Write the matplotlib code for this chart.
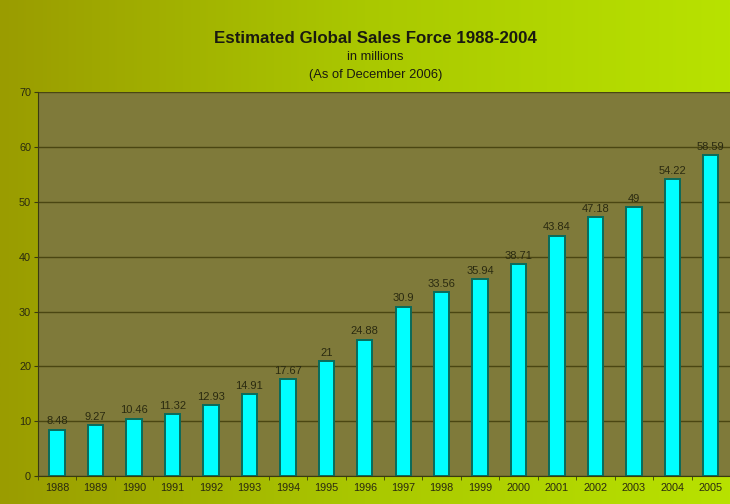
import numpy as np
import matplotlib.pyplot as plt
from matplotlib.colors import LinearSegmentedColormap

years = ['1988', '1989', '1990', '1991', '1992', '1993', '1994', '1995', '1996',
         '1997', '1998', '1999', '2000', '2001', '2002', '2003', '2004', '2005']
sales_force = [8.48, 9.27, 10.46, 11.32, 12.93, 14.91, 17.67, 21, 24.88,
               30.9, 33.56, 35.94, 38.71, 43.84, 47.18, 49, 54.22, 58.59]
value_labels = ['8.48', '9.27', '10.46', '11.32', '12.93', '14.91', '17.67', '21', '24.88',
                '30.9', '33.56', '35.94', '38.71', '43.84', '47.18', '49', '54.22', '58.59']

plt.rcParams['font.family'] = ['Liberation Sans', 'DejaVu Sans']

fig = plt.figure(figsize=(7.3, 5.04), dpi=100)

# gradient background
bg = fig.add_axes([0, 0, 1, 1], zorder=0)
grad = np.linspace(0, 1, 256).reshape(1, -1)
cmap = LinearSegmentedColormap.from_list('bg', ['#9a9c00', '#aac800', '#b8e200'])
bg.imshow(grad, aspect='auto', cmap=cmap, extent=[0, 1, 0, 1])
bg.axis('off')

ax = fig.add_axes([0.052, 0.0556, 0.948, 0.761], zorder=1)
ax.set_facecolor('#7f7a3a')

x = np.arange(len(years))
ax.bar(x, sales_force, width=0.4, color='#00ffff', edgecolor='#0a6a5a',
       linewidth=1.4, zorder=3)
for xi, v, lab in zip(x, sales_force, value_labels):
    ax.text(xi, v + 0.6, lab, ha='center', va='bottom', fontsize=8,
            color='#2a2a10', zorder=4)

ax.set_xlim(-0.5, len(years) - 0.5)
ax.set_ylim(0, 70)
ax.set_yticks(range(0, 71, 10))
ax.yaxis.grid(True, color='#4a4612', linewidth=1.0, zorder=1)
ax.set_axisbelow(True)

ax.set_xticks(x)
ax.set_xticklabels(years, fontsize=7.8, color='#2a2a10')
ax.set_xticks(np.arange(-0.5, len(years), 1), minor=True)
ax.tick_params(axis='x', which='major', length=0, pad=5)
ax.tick_params(axis='x', which='minor', length=3, color='#3a3a10', direction='out')
ax.tick_params(axis='y', labelsize=7.8, labelcolor='#2a2a10', length=3,
               color='#3a3a10', pad=2)

for side in ['top', 'right']:
    ax.spines[side].set_visible(False)
ax.spines['left'].set_color('#3a3a10')
ax.spines['bottom'].set_color('#3a3a10')

fig.text(0.514, 0.924, 'Estimated Global Sales Force 1988-2004', ha='center',
         va='center', fontsize=12.2, fontweight='bold', color='#1a1a10')
fig.text(0.514, 0.887, 'in millions', ha='center', va='center', fontsize=9.3,
         color='#1a1a10')
fig.text(0.514, 0.851, '(As of December 2006)', ha='center', va='center',
         fontsize=9.3, color='#1a1a10')

fig.savefig('out.png', dpi=100)
